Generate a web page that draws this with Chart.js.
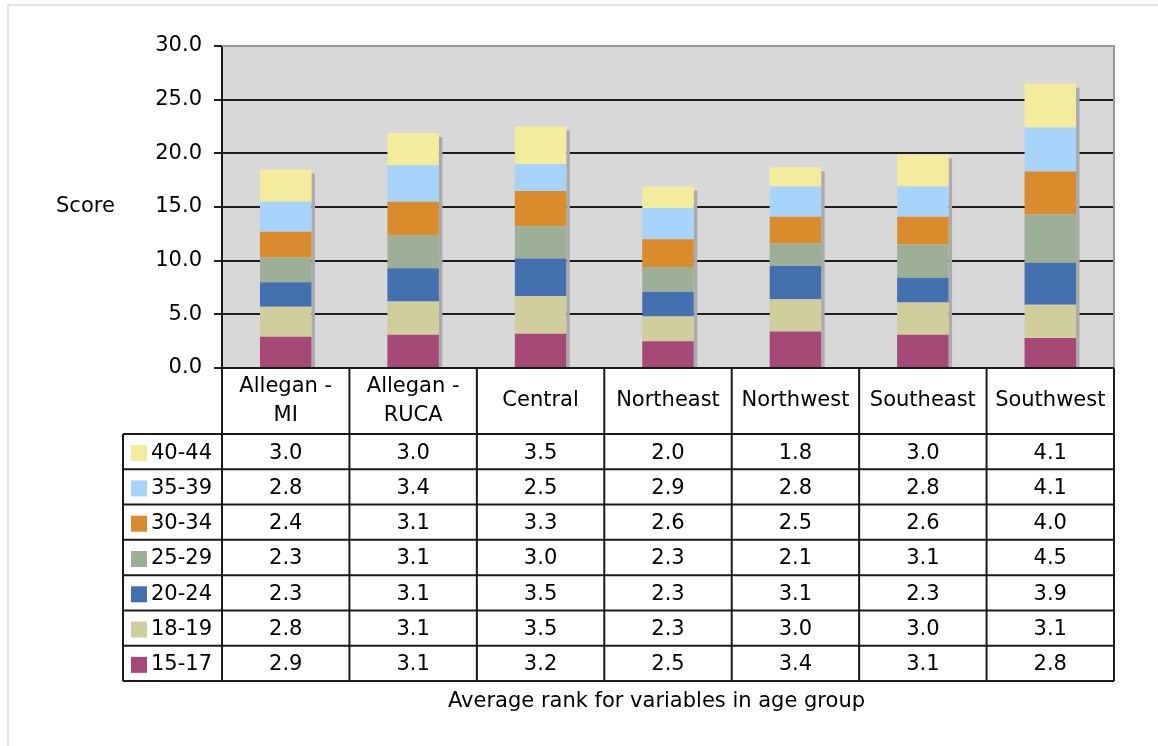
<!DOCTYPE html>
<html>
<head>
<meta charset="utf-8">
<title>Average rank for variables in age group</title>
<script src="https://cdn.jsdelivr.net/npm/chart.js@4/dist/chart.umd.min.js"></script>
<style>
  html, body { margin: 0; padding: 0; background: #ffffff; }
  canvas { display: block; }
</style>
</head>
<body>
<canvas id="chart" width="1158" height="746"></canvas>
<script>
// Regions (columns) and their header labels
const regions = ["Allegan - MI", "Allegan - RUCA", "Central", "Northeast", "Northwest", "Southeast", "Southwest"];
const regionHeaders = [["Allegan -", "MI"], ["Allegan -", "RUCA"], ["Central"], ["Northeast"], ["Northwest"], ["Southeast"], ["Southwest"]];

// Age groups, stacked bottom to top
const ageGroups = ["15-17", "18-19", "20-24", "25-29", "30-34", "35-39", "40-44"];

// Average rank per age group, one value per region
const age15to17 = [2.9, 3.1, 3.2, 2.5, 3.4, 3.1, 2.8];
const age18to19 = [2.8, 3.1, 3.5, 2.3, 3.0, 3.0, 3.1];
const age20to24 = [2.3, 3.1, 3.5, 2.3, 3.1, 2.3, 3.9];
const age25to29 = [2.3, 3.1, 3.0, 2.3, 2.1, 3.1, 4.5];
const age30to34 = [2.4, 3.1, 3.3, 2.6, 2.5, 2.6, 4.0];
const age35to39 = [2.8, 3.4, 2.5, 2.9, 2.8, 2.8, 4.1];
const age40to44 = [3.0, 3.0, 3.5, 2.0, 1.8, 3.0, 4.1];

// Value axis ticks
const scoreTicks = [0, 5, 10, 15, 20, 25, 30];

const seriesValues = [age15to17, age18to19, age20to24, age25to29, age30to34, age35to39, age40to44];
const seriesColors = ["#a54976", "#cfce9c", "#4570b0", "#9daf97", "#d98b2d", "#a9d4fa", "#f3ec9c"];

const FONT = "DejaVu Sans";
const FONT_SIZE = 21;
const TEXT = "#000000";

// Layout of the data table under the plot
const TABLE_LEGEND_LEFT = 123;
const HEADER_BOTTOM = 434;
const TABLE_BOTTOM = 681;

const datasets = ageGroups.map((g, i) => ({
  label: g,
  data: seriesValues[i],
  backgroundColor: seriesColors[i],
  borderWidth: 0,
  categoryPercentage: 1.0,
  barPercentage: 0.404
}));

const framePlugin = {
  id: "frame",
  beforeDraw(chart) {
    const { ctx, chartArea: a } = chart;
    ctx.save();
    ctx.fillStyle = "#ffffff";
    ctx.fillRect(0, 0, chart.width, chart.height);
    // thin page frame
    ctx.strokeStyle = "#dcdcdc";
    ctx.lineWidth = 1.5;
    ctx.beginPath();
    ctx.moveTo(8, chart.height + 2);
    ctx.lineTo(8, 5);
    ctx.lineTo(chart.width + 2, 5);
    ctx.stroke();
    // plot background
    ctx.fillStyle = "#d8d8d8";
    ctx.fillRect(a.left, a.top, a.right - a.left, a.bottom - a.top);
    ctx.restore();
  },
  beforeDatasetsDraw(chart) {
    // drop shadow behind each stacked column
    const { ctx, chartArea: a } = chart;
    const lastMeta = chart.getDatasetMeta(chart.data.datasets.length - 1);
    ctx.save();
    ctx.fillStyle = "#ababab";
    lastMeta.data.forEach((bar) => {
      const p = bar.getProps(["x", "y", "width"], true);
      const right = p.x + p.width / 2;
      ctx.fillRect(right, p.y + 4, 3.5, a.bottom - (p.y + 4));
    });
    ctx.restore();
  },
  afterDraw(chart) {
    const { ctx, chartArea: a } = chart;
    const xs = chart.scales.x;
    const n = regions.length;
    const colW = (a.right - a.left) / n;
    const edges = [];
    for (let i = 0; i < n; i++) edges.push(xs.getPixelForValue(i) - colW / 2);
    edges.push(xs.getPixelForValue(n - 1) + colW / 2);

    ctx.save();
    // plot border (top and right)
    ctx.strokeStyle = "#999999";
    ctx.lineWidth = 2;
    ctx.beginPath();
    ctx.moveTo(a.left, a.top);
    ctx.lineTo(a.right, a.top);
    ctx.lineTo(a.right, a.bottom);
    ctx.stroke();

    // table grid
    ctx.strokeStyle = "#1a1a1a";
    ctx.lineWidth = 2;
    ctx.beginPath();
    ctx.moveTo(edges[0], a.bottom);
    ctx.lineTo(edges[n], a.bottom);
    edges.forEach((x) => {
      ctx.moveTo(x, a.bottom);
      ctx.lineTo(x, TABLE_BOTTOM);
    });
    ctx.moveTo(TABLE_LEGEND_LEFT, HEADER_BOTTOM);
    ctx.lineTo(TABLE_LEGEND_LEFT, TABLE_BOTTOM);
    const rowH = (TABLE_BOTTOM - HEADER_BOTTOM) / ageGroups.length;
    for (let r = 0; r <= ageGroups.length; r++) {
      const y = HEADER_BOTTOM + r * rowH;
      ctx.moveTo(TABLE_LEGEND_LEFT, y);
      ctx.lineTo(edges[n], y);
    }
    ctx.stroke();

    ctx.fillStyle = TEXT;
    ctx.font = FONT_SIZE + "px '" + FONT + "'";
    ctx.textBaseline = "middle";
    ctx.textAlign = "center";

    // header row: region names
    const headMid = (a.bottom + HEADER_BOTTOM) / 2;
    regionHeaders.forEach((lines, i) => {
      const cx = xs.getPixelForValue(i);
      const lh = 29;
      const y0 = headMid - (lines.length - 1) * lh / 2;
      lines.forEach((t, k) => ctx.fillText(t, cx, y0 + k * lh));
    });

    // data rows: top row is the last age group
    for (let r = 0; r < ageGroups.length; r++) {
      const s = ageGroups.length - 1 - r;
      const cy = HEADER_BOTTOM + r * rowH + rowH / 2 + 1.5;
      ctx.fillStyle = seriesColors[s];
      ctx.fillRect(131, cy - 8, 16, 16);
      ctx.fillStyle = TEXT;
      ctx.textAlign = "left";
      ctx.fillText(ageGroups[s], 151, cy);
      ctx.textAlign = "center";
      seriesValues[s].forEach((v, i) => {
        ctx.fillText(v.toFixed(1), xs.getPixelForValue(i), cy);
      });
    }

    // axis captions
    ctx.textAlign = "left";
    ctx.fillText("Score", 56, a.top + (a.bottom - a.top) / 2);
    ctx.textAlign = "center";
    ctx.fillText("Average rank for variables in age group", 656.5, 702);
    ctx.restore();
  }
};

new Chart(document.getElementById("chart"), {
  type: "bar",
  data: { labels: regions, datasets },
  options: {
    responsive: false,
    animation: false,
    devicePixelRatio: 1,
    layout: { padding: { top: 46, right: 44, bottom: 378, left: 0 } },
    plugins: {
      legend: { display: false },
      tooltip: { enabled: false },
      title: { display: false }
    },
    scales: {
      x: {
        stacked: true,
        display: false,
        offset: true
      },
      y: {
        stacked: true,
        min: scoreTicks[0],
        max: scoreTicks[scoreTicks.length - 1],
        afterFit(scale) { scale.width = 222; },
        afterBuildTicks(scale) { scale.ticks = scoreTicks.map((v) => ({ value: v })); },
        ticks: {
          color: TEXT,
          font: { family: FONT, size: FONT_SIZE },
          padding: 12,
          callback: (v) => Number(v).toFixed(1)
        },
        grid: {
          color: (c) => (c.tick && c.tick.value === 30 ? "rgba(0,0,0,0)" : "#1f1f1f"),
          lineWidth: 2,
          drawTicks: true,
          tickLength: 8,
          tickColor: "#1f1f1f"
        },
        border: { display: true, color: "#1a1a1a", width: 2 }
      }
    }
  },
  plugins: [framePlugin]
});
</script>
</body>
</html>
